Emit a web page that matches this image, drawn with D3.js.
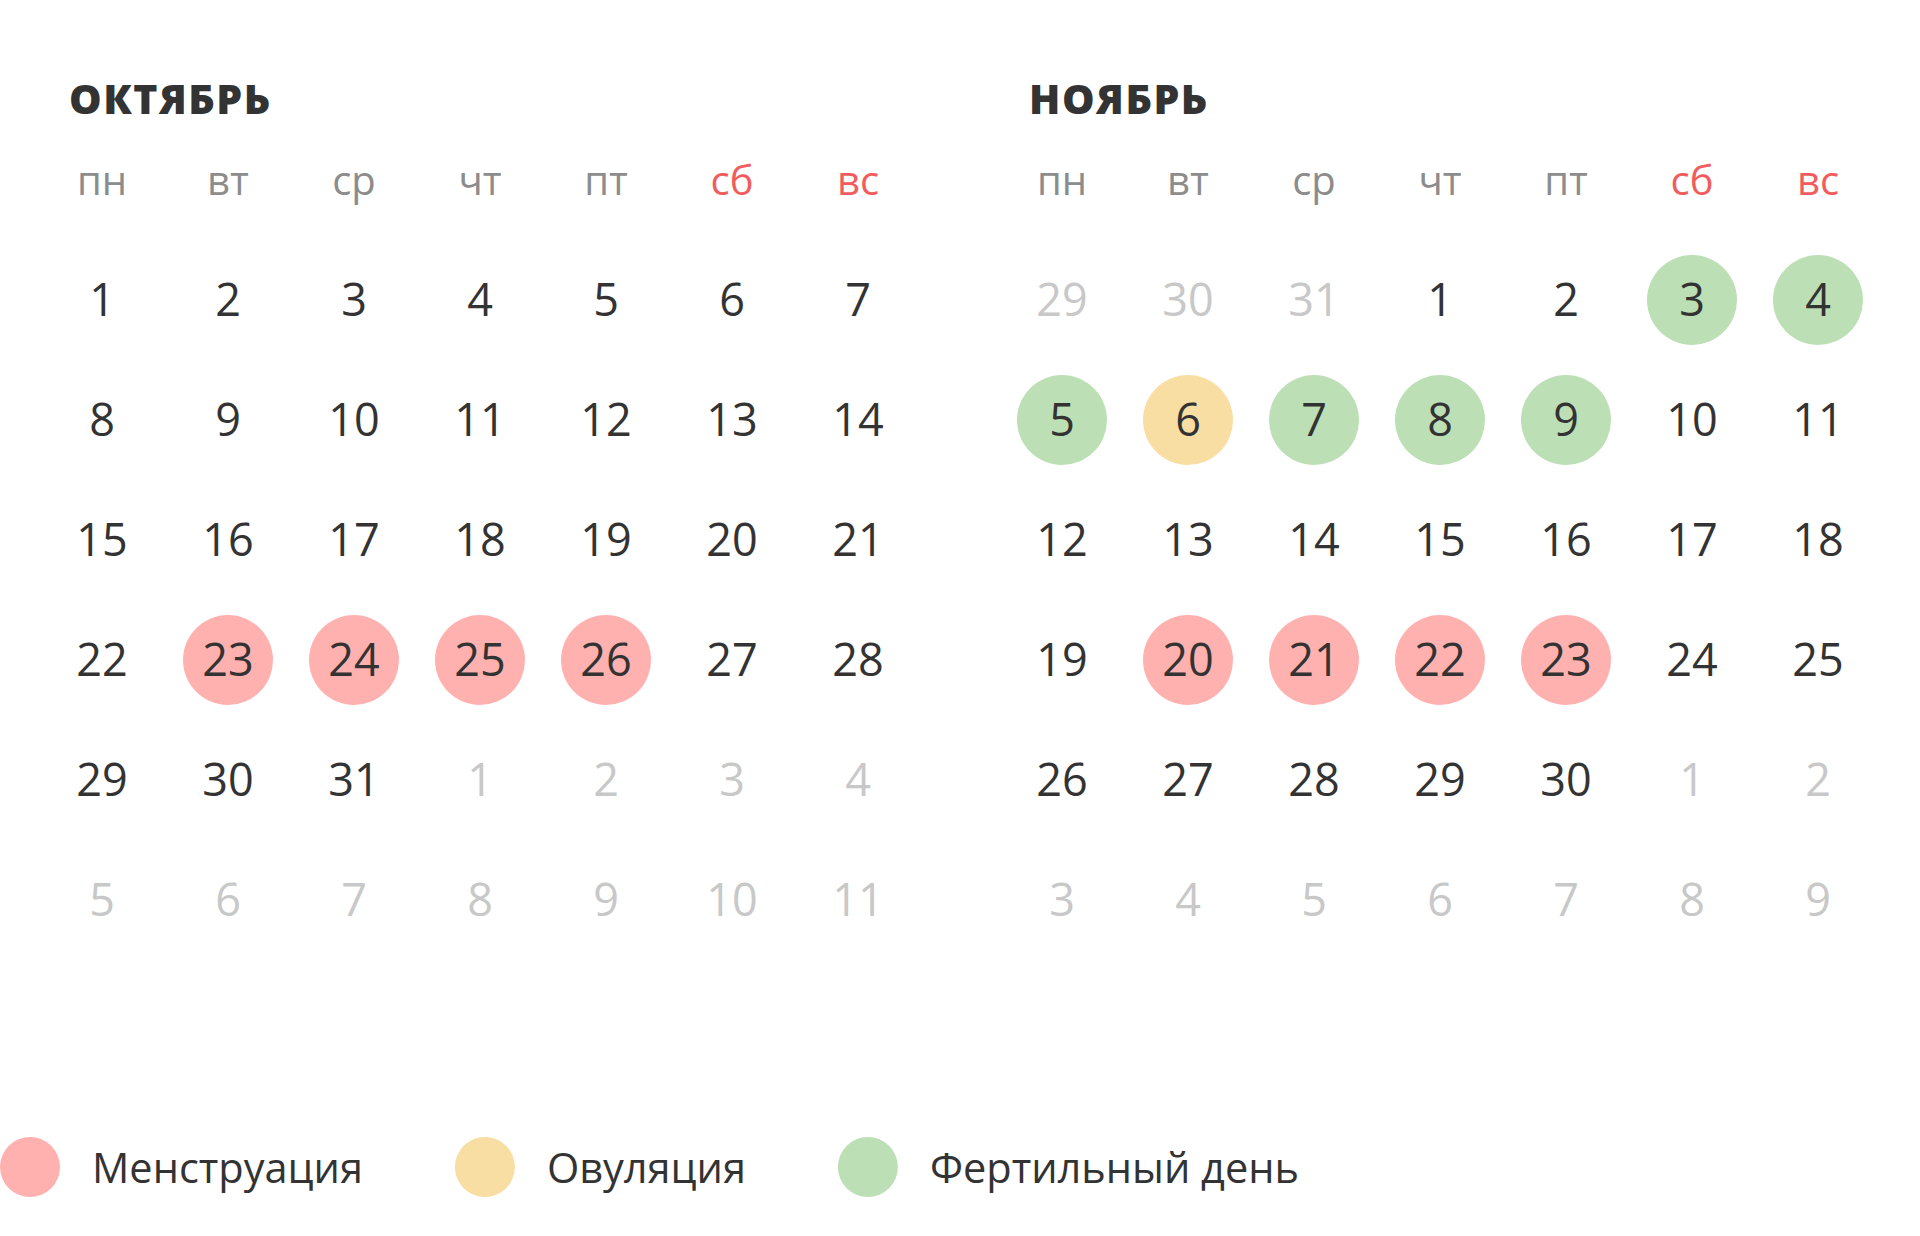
<!DOCTYPE html>
<html>
<head>
<meta charset="utf-8">
<script src="https://cdn.jsdelivr.net/npm/d3@7"></script>
<style>
  body { margin: 0; background: #fff; }
  svg { display: block; }
</style>
</head>
<body>
<svg id="chart"></svg>
<script>
// month titles and weekday labels
const monthNames = ['ОКТЯБРЬ', 'НОЯБРЬ'];
const weekdays = ['пн', 'вт', 'ср', 'чт', 'пт', 'сб', 'вс'];

// 6x7 grid of day numbers per month (spill-over days included)
const octCells = [1, 2, 3, 4, 5, 6, 7, 8, 9, 10, 11, 12, 13, 14, 15, 16, 17, 18, 19, 20, 21,
  22, 23, 24, 25, 26, 27, 28, 29, 30, 31, 1, 2, 3, 4, 5, 6, 7, 8, 9, 10, 11];
const novCells = [29, 30, 31, 1, 2, 3, 4, 5, 6, 7, 8, 9, 10, 11, 12, 13, 14, 15, 16, 17, 18,
  19, 20, 21, 22, 23, 24, 25, 26, 27, 28, 29, 30, 1, 2, 3, 4, 5, 6, 7, 8, 9];
// first and last grid index that belong to the month itself
const octRange = [0, 30];
const novRange = [3, 32];

// marked days (day of month)
const octMenstruation = [23, 24, 25, 26];
const novMenstruation = [20, 21, 22, 23];
const novOvulation = [6];
const novFertile = [3, 4, 5, 7, 8, 9];

const legendLabels = ['Менструация', 'Овуляция', 'Фертильный день'];
const legendKeys = ['men', 'ovu', 'fer'];

const width = 1920, height = 1236;
const colors = { men: '#ffb1b0', ovu: '#f8dea3', fer: '#bcdfb5' };

const svg = d3.select('#chart').attr('width', width).attr('height', height);
svg.append('rect').attr('width', width).attr('height', height).attr('fill', '#fff');

const col = d3.scalePoint().domain(d3.range(7)).range([102, 858]);
const row = d3.scalePoint().domain(d3.range(6)).range([300, 900]);
const monthX = d3.scalePoint().domain([0, 1]).range([0, 960]);

const months = [
  { name: monthNames[0], cells: octCells, range: octRange,
    marks: { men: octMenstruation, ovu: [], fer: [] } },
  { name: monthNames[1], cells: novCells, range: novRange,
    marks: { men: novMenstruation, ovu: novOvulation, fer: novFertile } }
];

const font = '"Open Sans", sans-serif';

months.forEach((m, mi) => {
  const g = svg.append('g').attr('transform', `translate(${monthX(mi)},0)`);

  g.append('text')
    .attr('x', col(0) - 33)
    .attr('y', 114)
    .attr('font-family', font)
    .attr('font-weight', 800)
    .attr('font-size', 41)
    .attr('letter-spacing', 1.5)
    .attr('fill', '#333')
    .text(m.name);

  g.selectAll('.wd')
    .data(weekdays)
    .enter()
    .append('text')
    .attr('class', 'wd')
    .attr('x', (d, i) => col(i))
    .attr('y', 195)
    .attr('text-anchor', 'middle')
    .attr('font-family', font)
    .attr('font-size', 40)
    .attr('fill', (d, i) => i >= 5 ? '#f25c5c' : '#8c8c8c')
    .text(d => d);

  const cells = m.cells.map((d, i) => {
    const inMonth = i >= m.range[0] && i <= m.range[1];
    let kind = null;
    if (inMonth) {
      for (const k of legendKeys) if (m.marks[k].includes(d)) kind = k;
    }
    return { day: d, c: i % 7, r: Math.floor(i / 7), inMonth, kind };
  });

  g.selectAll('.mark')
    .data(cells.filter(d => d.kind))
    .enter()
    .append('circle')
    .attr('class', 'mark')
    .attr('cx', d => col(d.c))
    .attr('cy', d => row(d.r))
    .attr('r', 45)
    .attr('fill', d => colors[d.kind]);

  g.selectAll('.day')
    .data(cells)
    .enter()
    .append('text')
    .attr('class', 'day')
    .attr('x', d => col(d.c))
    .attr('y', d => row(d.r) + 16)
    .attr('text-anchor', 'middle')
    .attr('font-family', font)
    .attr('font-size', 45)
    .attr('fill', d => d.inMonth ? '#333' : '#c8c8c8')
    .text(d => d.day);
});

// legend, laid out left to right from measured text widths
const legend = svg.append('g');
let lx = 0;
legendLabels.forEach((label, i) => {
  legend.append('circle')
    .attr('cx', lx + 30)
    .attr('cy', 1167)
    .attr('r', 30)
    .attr('fill', colors[legendKeys[i]]);
  const t = legend.append('text')
    .attr('x', lx + 92)
    .attr('y', 1183)
    .attr('font-family', font)
    .attr('font-size', 41.5)
    .attr('fill', '#333')
    .text(label);
  lx = lx + 92 + t.node().getComputedTextLength() + 92;
});
</script>
</body>
</html>
